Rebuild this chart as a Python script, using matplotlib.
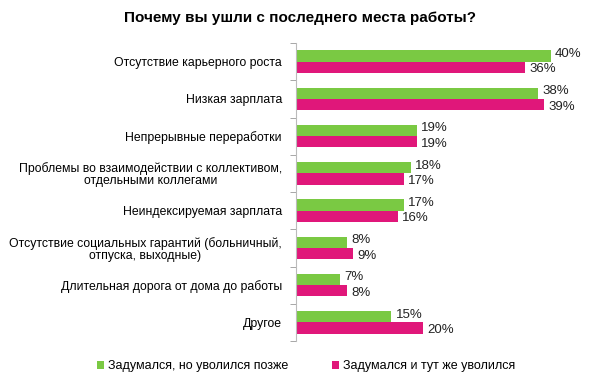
import matplotlib
matplotlib.use("Agg")
import numpy as np
import matplotlib.pyplot as plt

plt.rcParams['font.family'] = ['Liberation Sans', 'DejaVu Sans']

categories = [
    "Отсутствие карьерного роста",
    "Низкая зарплата",
    "Непрерывные переработки",
    "Проблемы во взаимодействии с коллективом,\nотдельными коллегами",
    "Неиндексируемая зарплата",
    "Отсутствие социальных гарантий (больничный,\nотпуска, выходные)",
    "Длительная дорога от дома до работы",
    "Другое",
]
later = [40, 38, 19, 18, 17, 8, 7, 15]
at_once = [36, 39, 19, 17, 16, 9, 8, 20]
series_names = ["Задумался, но уволился позже", "Задумался и тут же уволился"]

green = "#7ac943"
pink = "#e0177a"

fig = plt.figure(figsize=(6, 3.83), dpi=100)
ax = fig.add_axes([0.493, 1 - 341 / 383, 0.457, 298 / 383])

y = np.arange(len(categories))
h = 0.3
b1 = ax.barh(y - h / 2, later, height=h, color=green, label=series_names[0])
b2 = ax.barh(y + h / 2, at_once, height=h, color=pink, label=series_names[1])

# green labels nudged up, pink labels nudged down
for bars, vals, dy in ((b1, later, 1.5), (b2, at_once, -1.5)):
    for bar, v in zip(bars, vals):
        ax.annotate(f"{v}%", (bar.get_width(), bar.get_y() + bar.get_height() / 2),
                    xytext=(3, dy), textcoords="offset points",
                    va="center", ha="left", fontsize=9.5, color="#222222")

ax.set_xlim(0, 43)
ax.set_ylim(len(categories) - 0.5, -0.5)
ax.set_yticks(y)
ax.set_yticklabels(categories, fontsize=8.8, multialignment="center",
                   linespacing=1.0)
ax.set_yticks(np.arange(len(categories) + 1) - 0.5, minor=True)
ax.tick_params(axis="y", which="major", length=0, pad=10)
ax.tick_params(axis="y", which="minor", length=4, color="#999999")
ax.set_xticks([])
for s in ("top", "right", "bottom"):
    ax.spines[s].set_visible(False)
ax.spines["left"].set_color("#bbbbbb")

fig.text(0.5, 0.953, "Почему вы ушли с последнего места работы?",
         ha="center", va="center", fontsize=11, fontweight="bold")

fig.legend(handles=[b1, b2], loc="center", bbox_to_anchor=(0.51, 1 - 366 / 383),
           ncol=2, frameon=False, fontsize=9, handlelength=0.6, handleheight=0.6,
           handletextpad=0.3, columnspacing=3.5)

fig.savefig("out.png", dpi=100)
